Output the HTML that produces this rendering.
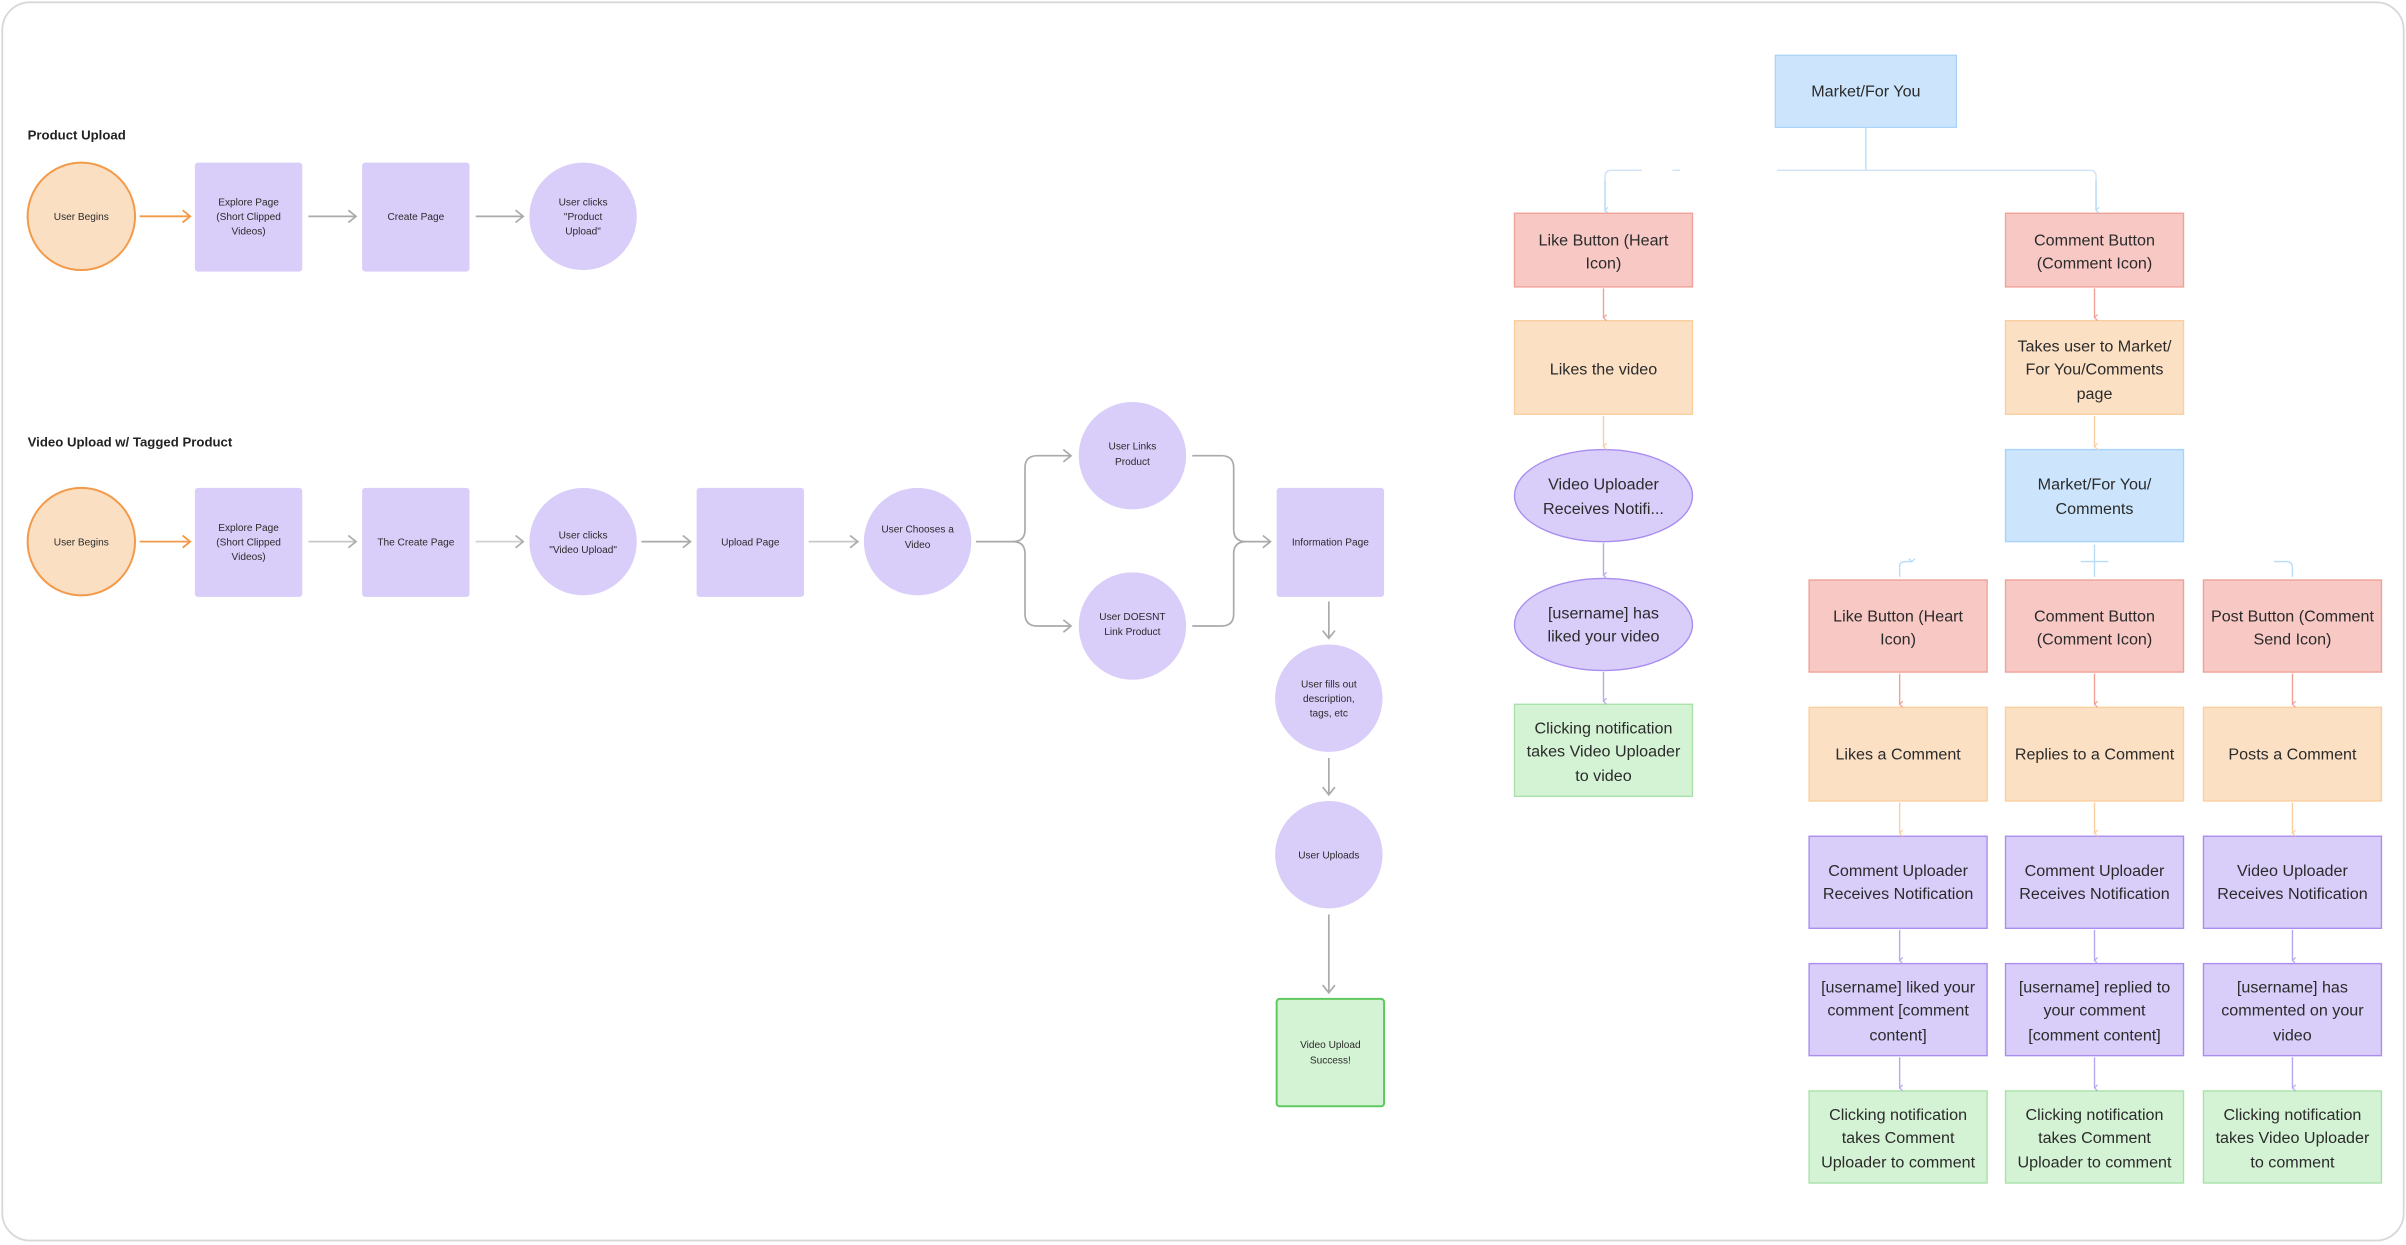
<!DOCTYPE html>
<html><head><meta charset="utf-8"><style>
html,body{margin:0;padding:0;background:#fff;}
svg{display:block;}
text{font-family:"Liberation Sans",sans-serif;fill:#2b2b2b;text-anchor:middle;}
.s{font-size:6.6px;}
.m{font-size:10.5px;}
.h{font-size:8.6px;font-weight:bold;text-anchor:start;fill:#222;}
</style></head><body>
<svg width="2406" height="1245" viewBox="0 0 1568 811.4" preserveAspectRatio="none" xmlns="http://www.w3.org/2000/svg">
<defs>
<marker id="ag" markerWidth="10" markerHeight="10" refX="8" refY="5" orient="auto" markerUnits="userSpaceOnUse"><path d="M3,1 L8,5 L3,9" fill="none" stroke="#aaa" stroke-width="1.1"/></marker>
<marker id="ao" markerWidth="10" markerHeight="10" refX="8" refY="5" orient="auto" markerUnits="userSpaceOnUse"><path d="M3,1 L8,5 L3,9" fill="none" stroke="#f39a4a" stroke-width="1.2"/></marker>
<marker id="sm" markerWidth="6" markerHeight="6" refX="3" refY="5" orient="auto" markerUnits="userSpaceOnUse"><path d="M1,3 L3,5 L5,3" fill="none" stroke="context-stroke" stroke-width="0.8"/></marker>
</defs>
<rect x="1.5" y="1.5" width="1565" height="807" rx="18" fill="#fff" stroke="#d8d8d8" stroke-width="1.2"/>

<!-- Left: Product Upload -->
<text class="h" x="18" y="91">Product Upload</text>
<circle cx="53" cy="141" r="35" fill="#fbdfc3" stroke="#f39a4a" stroke-width="1.3"/>
<text class="s" x="53" y="143.5">User Begins</text>
<line x1="91" y1="141" x2="124" y2="141" stroke="#f39a4a" stroke-width="1.2" marker-end="url(#ao)"/>
<rect x="127" y="106" width="70" height="71" rx="2" fill="#d9cdf9"/>
<text class="s" x="162" y="134">Explore Page</text><text class="s" x="162" y="143.5">(Short Clipped</text><text class="s" x="162" y="153">Videos)</text>
<line x1="201" y1="141" x2="232" y2="141" stroke="#aaa" stroke-width="1.1" marker-end="url(#ag)"/>
<rect x="236" y="106" width="70" height="71" rx="2" fill="#d9cdf9"/>
<text class="s" x="271" y="143.5">Create Page</text>
<line x1="310" y1="141" x2="341" y2="141" stroke="#aaa" stroke-width="1.1" marker-end="url(#ag)"/>
<circle cx="380" cy="141" r="35" fill="#d9cdf9"/>
<text class="s" x="380" y="134">User clicks</text><text class="s" x="380" y="143.5">"Product</text><text class="s" x="380" y="153">Upload"</text>

<!-- Left: Video Upload -->
<text class="h" x="18" y="291">Video Upload w/ Tagged Product</text>
<circle cx="53" cy="353" r="35" fill="#fbdfc3" stroke="#f39a4a" stroke-width="1.3"/>
<text class="s" x="53" y="355.5">User Begins</text>
<line x1="91" y1="353" x2="124" y2="353" stroke="#f39a4a" stroke-width="1.2" marker-end="url(#ao)"/>
<rect x="127" y="318" width="70" height="71" rx="2" fill="#d9cdf9"/>
<text class="s" x="162" y="346">Explore Page</text><text class="s" x="162" y="355.5">(Short Clipped</text><text class="s" x="162" y="365">Videos)</text>
<line x1="201" y1="353" x2="232" y2="353" stroke="#c8c8c8" stroke-width="1.1" marker-end="url(#ag)"/>
<rect x="236" y="318" width="70" height="71" rx="2" fill="#d9cdf9"/>
<text class="s" x="271" y="355.5">The Create Page</text>
<line x1="310" y1="353" x2="341" y2="353" stroke="#d0d0d0" stroke-width="1.1" marker-end="url(#ag)"/>
<circle cx="380" cy="353" r="35" fill="#d9cdf9"/>
<text class="s" x="380" y="351">User clicks</text><text class="s" x="380" y="360.5">"Video Upload"</text>
<line x1="418" y1="353" x2="450" y2="353" stroke="#aaa" stroke-width="1.1" marker-end="url(#ag)"/>
<rect x="454" y="318" width="70" height="71" rx="2" fill="#d9cdf9"/>
<text class="s" x="489" y="355.5">Upload Page</text>
<line x1="527" y1="353" x2="559" y2="353" stroke="#c8c8c8" stroke-width="1.1" marker-end="url(#ag)"/>
<circle cx="598" cy="353" r="35" fill="#d9cdf9"/>
<text class="s" x="598" y="347">User Chooses a</text><text class="s" x="598" y="357">Video</text>
<path d="M636,353 H660 Q668,353 668,345 V305 Q668,297 676,297 H698" fill="none" stroke="#aaa" stroke-width="1.1" marker-end="url(#ag)"/>
<path d="M660,353 Q668,353 668,361 V400 Q668,408 676,408 H698" fill="none" stroke="#aaa" stroke-width="1.1" marker-end="url(#ag)"/>
<circle cx="738" cy="297" r="35" fill="#d9cdf9"/>
<text class="s" x="738" y="293">User Links</text><text class="s" x="738" y="303">Product</text>
<circle cx="738" cy="408" r="35" fill="#d9cdf9"/>
<text class="s" x="738" y="404">User DOESNT</text><text class="s" x="738" y="414">Link Product</text>
<path d="M777,297 H796 Q804,297 804,305 V345 Q804,353 812,353 H828" fill="none" stroke="#aaa" stroke-width="1.1" marker-end="url(#ag)"/>
<path d="M777,408 H796 Q804,408 804,400 V361 Q804,353 812,353" fill="none" stroke="#aaa" stroke-width="1.1"/>
<rect x="832" y="318" width="70" height="71" rx="2" fill="#d9cdf9"/>
<text class="s" x="867" y="355.5">Information Page</text>
<line x1="866" y1="392" x2="866" y2="416" stroke="#aaa" stroke-width="1.1" marker-end="url(#ag)"/>
<circle cx="866" cy="455" r="35" fill="#d9cdf9"/>
<text class="s" x="866" y="448">User fills out</text><text class="s" x="866" y="457.5">description,</text><text class="s" x="866" y="467">tags, etc</text>
<line x1="866" y1="494" x2="866" y2="518" stroke="#aaa" stroke-width="1.1" marker-end="url(#ag)"/>
<circle cx="866" cy="557" r="35" fill="#d9cdf9"/>
<text class="s" x="866" y="559.5">User Uploads</text>
<line x1="866" y1="596" x2="866" y2="647" stroke="#aaa" stroke-width="1.1" marker-end="url(#ag)"/>
<rect x="832" y="651" width="70" height="70" rx="2" fill="#d4f2d4" stroke="#5fc95f" stroke-width="1.3"/>
<text class="s" x="867" y="683">Video Upload</text><text class="s" x="867" y="693">Success!</text>

<!-- Right top -->
<rect x="1157" y="36" width="118" height="47" fill="#cce5fd" stroke="#a9d2f8" stroke-width="0.8"/>
<text class="m" x="1216" y="63">Market/For You</text>
<path d="M1216,83 V111" stroke="#b8dcf8" stroke-width="0.9" fill="none"/>
<path d="M1046,138 V115 Q1046,111 1050,111 H1070 M1090,111 H1095 M1158,111 H1362 Q1366,111 1366,115 V137" stroke="#cfe2f6" stroke-width="0.9" fill="none"/>
<path d="M1046,118 V137" stroke="#b8dcf8" stroke-width="0.9" fill="none" marker-end="url(#sm)"/>
<path d="M1366,118 V137" stroke="#b8dcf8" stroke-width="0.9" fill="none" marker-end="url(#sm)"/>

<g stroke-width="0.9">
<rect x="987" y="139" width="116" height="48" fill="#f7c8c4" stroke="#f0a298"/>
<rect x="1307" y="139" width="116" height="48" fill="#f7c8c4" stroke="#f0a298"/>
<rect x="987" y="209" width="116" height="61" fill="#fbe0c4" stroke="#f9cf9f"/>
<rect x="1307" y="209" width="116" height="61" fill="#fbe0c4" stroke="#f9cf9f"/>
<ellipse cx="1045" cy="323" rx="58" ry="30" fill="#d9cdf9" stroke="#a98df0"/>
<rect x="1307" y="293" width="116" height="60" fill="#cce5fd" stroke="#a9d2f8"/>
<ellipse cx="1045" cy="407" rx="58" ry="30" fill="#d9cdf9" stroke="#a98df0"/>
<rect x="987" y="459" width="116" height="60" fill="#d4f2d4" stroke="#a9e2a9"/>
</g>
<text class="m" x="1045" y="160">Like Button (Heart</text><text class="m" x="1045" y="175">Icon)</text>
<text class="m" x="1365" y="160">Comment Button</text><text class="m" x="1365" y="175">(Comment Icon)</text>
<text class="m" x="1045" y="244">Likes the video</text>
<text class="m" x="1365" y="229">Takes user to Market/</text><text class="m" x="1365" y="244">For You/Comments</text><text class="m" x="1365" y="260">page</text>
<text class="m" x="1045" y="319">Video Uploader</text><text class="m" x="1045" y="335">Receives Notifi...</text>
<text class="m" x="1365" y="319">Market/For You/</text><text class="m" x="1365" y="335">Comments</text>
<text class="m" x="1045" y="403">[username] has</text><text class="m" x="1045" y="418">liked your video</text>
<text class="m" x="1045" y="478">Clicking notification</text><text class="m" x="1045" y="493">takes Video Uploader</text><text class="m" x="1045" y="509">to video</text>

<g stroke-width="0.9" fill="none">
<path d="M1045,188 V207" stroke="#f2a096" marker-end="url(#sm)"/>
<path d="M1365,188 V207" stroke="#f2a096" marker-end="url(#sm)"/>
<path d="M1045,271 V291" stroke="#f9cf9f" marker-end="url(#sm)"/>
<path d="M1365,271 V291" stroke="#f9cf9f" marker-end="url(#sm)"/>
<path d="M1045,354 V375" stroke="#b9a6f2" marker-end="url(#sm)"/>
<path d="M1045,438 V457" stroke="#b9a6f2" marker-end="url(#sm)"/>
<path d="M1238,376 V369 Q1238,366 1242,366 H1246" stroke="#b8dcf8" marker-end="url(#sm)"/>
<path d="M1365,355 V376 M1356,366 H1374" stroke="#b8dcf8"/>
<path d="M1482,366 H1490 Q1494,366 1494,370 V376" stroke="#b8dcf8"/>
</g>

<!-- three columns -->
<g stroke-width="0.9">
<rect x="1179" y="378" width="116" height="60" fill="#f7c8c4" stroke="#f0a298"/>
<rect x="1307" y="378" width="116" height="60" fill="#f7c8c4" stroke="#f0a298"/>
<rect x="1436" y="378" width="116" height="60" fill="#f7c8c4" stroke="#f0a298"/>
<rect x="1179" y="461" width="116" height="61" fill="#fbe0c4" stroke="#f9cf9f"/>
<rect x="1307" y="461" width="116" height="61" fill="#fbe0c4" stroke="#f9cf9f"/>
<rect x="1436" y="461" width="116" height="61" fill="#fbe0c4" stroke="#f9cf9f"/>
<rect x="1179" y="545" width="116" height="60" fill="#d9cdf9" stroke="#a98df0"/>
<rect x="1307" y="545" width="116" height="60" fill="#d9cdf9" stroke="#a98df0"/>
<rect x="1436" y="545" width="116" height="60" fill="#d9cdf9" stroke="#a98df0"/>
<rect x="1179" y="628" width="116" height="60" fill="#d9cdf9" stroke="#a98df0"/>
<rect x="1307" y="628" width="116" height="60" fill="#d9cdf9" stroke="#a98df0"/>
<rect x="1436" y="628" width="116" height="60" fill="#d9cdf9" stroke="#a98df0"/>
<rect x="1179" y="711" width="116" height="60" fill="#d4f2d4" stroke="#a9e2a9"/>
<rect x="1307" y="711" width="116" height="60" fill="#d4f2d4" stroke="#a9e2a9"/>
<rect x="1436" y="711" width="116" height="60" fill="#d4f2d4" stroke="#a9e2a9"/>
</g>
<g stroke-width="0.9" fill="none">
<path d="M1238,439 V459" stroke="#f2a096" marker-end="url(#sm)"/>
<path d="M1365,439 V459" stroke="#f2a096" marker-end="url(#sm)"/>
<path d="M1494,439 V459" stroke="#f2a096" marker-end="url(#sm)"/>
<path d="M1238,523 V543" stroke="#f9cf9f" marker-end="url(#sm)"/>
<path d="M1365,523 V543" stroke="#f9cf9f" marker-end="url(#sm)"/>
<path d="M1494,523 V543" stroke="#f9cf9f" marker-end="url(#sm)"/>
<path d="M1238,606 V626" stroke="#b9a6f2" marker-end="url(#sm)"/>
<path d="M1365,606 V626" stroke="#b9a6f2" marker-end="url(#sm)"/>
<path d="M1494,606 V626" stroke="#b9a6f2" marker-end="url(#sm)"/>
<path d="M1238,689 V709" stroke="#b9a6f2" marker-end="url(#sm)"/>
<path d="M1365,689 V709" stroke="#b9a6f2" marker-end="url(#sm)"/>
<path d="M1494,689 V709" stroke="#b9a6f2" marker-end="url(#sm)"/>
</g>
<text class="m" x="1237" y="405">Like Button (Heart</text><text class="m" x="1237" y="420">Icon)</text>
<text class="m" x="1365" y="405">Comment Button</text><text class="m" x="1365" y="420">(Comment Icon)</text>
<text class="m" x="1494" y="405">Post Button (Comment</text><text class="m" x="1494" y="420">Send Icon)</text>
<text class="m" x="1237" y="495">Likes a Comment</text>
<text class="m" x="1365" y="495">Replies to a Comment</text>
<text class="m" x="1494" y="495">Posts a Comment</text>
<text class="m" x="1237" y="571">Comment Uploader</text><text class="m" x="1237" y="586">Receives Notification</text>
<text class="m" x="1365" y="571">Comment Uploader</text><text class="m" x="1365" y="586">Receives Notification</text>
<text class="m" x="1494" y="571">Video Uploader</text><text class="m" x="1494" y="586">Receives Notification</text>
<text class="m" x="1237" y="647">[username] liked your</text><text class="m" x="1237" y="662">comment [comment</text><text class="m" x="1237" y="678">content]</text>
<text class="m" x="1365" y="647">[username] replied to</text><text class="m" x="1365" y="662">your comment</text><text class="m" x="1365" y="678">[comment content]</text>
<text class="m" x="1494" y="647">[username] has</text><text class="m" x="1494" y="662">commented on your</text><text class="m" x="1494" y="678">video</text>
<text class="m" x="1237" y="730">Clicking notification</text><text class="m" x="1237" y="745">takes Comment</text><text class="m" x="1237" y="761">Uploader to comment</text>
<text class="m" x="1365" y="730">Clicking notification</text><text class="m" x="1365" y="745">takes Comment</text><text class="m" x="1365" y="761">Uploader to comment</text>
<text class="m" x="1494" y="730">Clicking notification</text><text class="m" x="1494" y="745">takes Video Uploader</text><text class="m" x="1494" y="761">to comment</text>
</svg>
</body></html>
